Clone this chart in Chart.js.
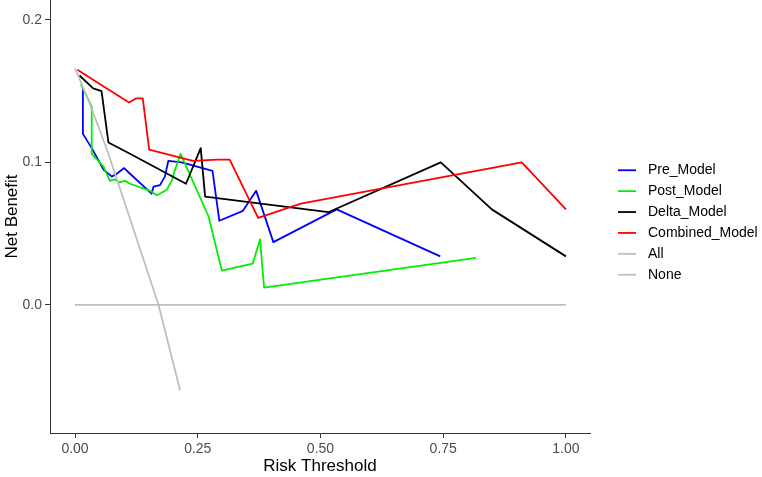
<!DOCTYPE html>
<html>
<head>
<meta charset="utf-8">
<script src="https://cdn.jsdelivr.net/npm/chart.js@4"></script>
<style>
  html, body { margin: 0; padding: 0; background: #fff; }
  #wrap { width: 762px; height: 477px; }
</style>
</head>
<body>
<div id="wrap"><canvas id="dcaChart" width="762" height="477"></canvas></div>
<script>
// values
const preX = [0.016, 0.016, 0.034, 0.058, 0.075, 0.085, 0.100, 0.112, 0.156, 0.160, 0.173, 0.183, 0.190, 0.217, 0.280, 0.294, 0.342, 0.369, 0.404, 0.533, 0.744];
const preY = [0.151, 0.120, 0.110, 0.095, 0.090, 0.092, 0.096, 0.092, 0.078, 0.083, 0.084, 0.090, 0.101, 0.100, 0.094, 0.059, 0.066, 0.080, 0.044, 0.067, 0.034];

const postX = [0.012, 0.034, 0.034, 0.058, 0.071, 0.081, 0.090, 0.102, 0.112, 0.153, 0.166, 0.173, 0.187, 0.197, 0.200, 0.215, 0.272, 0.299, 0.362, 0.377, 0.385, 0.817];
const postY = [0.155, 0.139, 0.106, 0.097, 0.087, 0.088, 0.086, 0.087, 0.085, 0.080, 0.077, 0.078, 0.081, 0.087, 0.091, 0.106, 0.062, 0.024, 0.029, 0.046, 0.012, 0.033];

const deltaX = [0.009, 0.037, 0.054, 0.068, 0.112, 0.226, 0.256, 0.265, 0.516, 0.745, 0.849, 1.000];
const deltaY = [0.161, 0.152, 0.150, 0.114, 0.106, 0.085, 0.110, 0.076, 0.065, 0.100, 0.067, 0.034];

const combX = [0.005, 0.055, 0.110, 0.125, 0.138, 0.151, 0.240, 0.290, 0.315, 0.373, 0.460, 0.910, 1.000];
const combY = [0.165, 0.154, 0.142, 0.145, 0.145, 0.109, 0.101, 0.102, 0.102, 0.061, 0.071, 0.100, 0.067];

const allX = [0.000, 0.027, 0.065, 0.098, 0.170, 0.214];
const allY = [0.166, 0.144, 0.109, 0.075, 0.000, -0.060];

const noneX = [0, 1];
const noneY = [0, 0];

const xTicks = [0, 0.25, 0.5, 0.75, 1];
const yTicks = [0, 0.1, 0.2];

const seriesNames = ['Pre_Model', 'Post_Model', 'Delta_Model', 'Combined_Model', 'All', 'None'];
const seriesColors = ['#0000ff', '#00ee00', '#000000', '#ff0000', '#bebebe', '#bebebe'];

const xs = [preX, postX, deltaX, combX, allX, noneX];
const ys = [preY, postY, deltaY, combY, allY, noneY];

const FONT = '"Liberation Sans", Arial, sans-serif';

const datasets = seriesNames.map((name, i) => ({
  label: name,
  data: xs[i].map((x, j) => ({ x, y: ys[i][j] })),
  borderColor: seriesColors[i],
  backgroundColor: seriesColors[i],
  borderWidth: 1.8,
  borderJoinStyle: 'round',
  borderCapStyle: 'butt',
  pointRadius: 0,
  tension: 0,
  fill: false,
  order: seriesNames.length - 1 - i
}));

// ggplot-like legend to the right of the panel
const sideLegend = {
  id: 'sideLegend',
  afterDraw(chart) {
    const { ctx, chartArea } = chart;
    const keyX = chartArea.right + 28;
    const textX = chartArea.right + 58;
    const rowH = 20.9;
    const top = chartArea.top + (chartArea.bottom - chartArea.top) / 2 - rowH * 2.5 + 6;
    ctx.save();
    ctx.font = '14px ' + FONT;
    ctx.textBaseline = 'middle';
    chart.data.datasets.forEach((ds, i) => {
      const y = top + i * rowH;
      ctx.strokeStyle = ds.borderColor;
      ctx.lineWidth = 1.8;
      ctx.beginPath();
      ctx.moveTo(keyX, y);
      ctx.lineTo(keyX + 18, y);
      ctx.stroke();
      ctx.fillStyle = '#000';
      ctx.fillText(ds.label, textX, y);
    });
    ctx.restore();
  }
};

new Chart(document.getElementById('dcaChart'), {
  type: 'line',
  data: { datasets },
  plugins: [sideLegend],
  options: {
    responsive: false,
    animation: false,
    layout: { padding: { left: 0, right: 172, top: 0, bottom: 0 } },
    plugins: {
      legend: { display: false },
      tooltip: { enabled: false }
    },
    scales: {
      x: {
        type: 'linear',
        min: -0.051,
        max: 1.049,
        afterBuildTicks: scale => { scale.ticks = xTicks.map(v => ({ value: v })); },
        afterFit: scale => { scale.height = 44; scale.paddingLeft = 0; scale.paddingRight = 0; },
        grid: { drawOnChartArea: false, drawTicks: true, tickLength: 5, color: '#333', tickWidth: 1 },
        border: { display: true, color: '#333', width: 1 },
        ticks: {
          autoSkip: false,
          maxRotation: 0,
          padding: 3,
          color: '#4d4d4d',
          font: { family: FONT, size: 14 },
          callback: v => Number(v).toFixed(2)
        },
        title: {
          display: true,
          text: 'Risk Threshold',
          color: '#000',
          font: { family: FONT, size: 17 },
          padding: { top: 0, bottom: 0 }
        }
      },
      y: {
        min: -0.09,
        max: 0.214,
        afterBuildTicks: scale => { scale.ticks = yTicks.map(v => ({ value: v })); },
        afterFit: scale => { scale.width = 50; scale.paddingTop = 0; scale.paddingBottom = 0; },
        grid: { drawOnChartArea: false, drawTicks: true, tickLength: 5, color: '#333', tickWidth: 1 },
        border: { display: true, color: '#333', width: 1 },
        ticks: {
          autoSkip: false,
          padding: 3,
          color: '#4d4d4d',
          font: { family: FONT, size: 14 },
          callback: v => Number(v).toFixed(1)
        },
        title: {
          display: true,
          text: 'Net Benefit',
          color: '#000',
          font: { family: FONT, size: 17 },
          padding: { top: 2, bottom: 0 }
        }
      }
    }
  }
});
</script>
</body>
</html>
